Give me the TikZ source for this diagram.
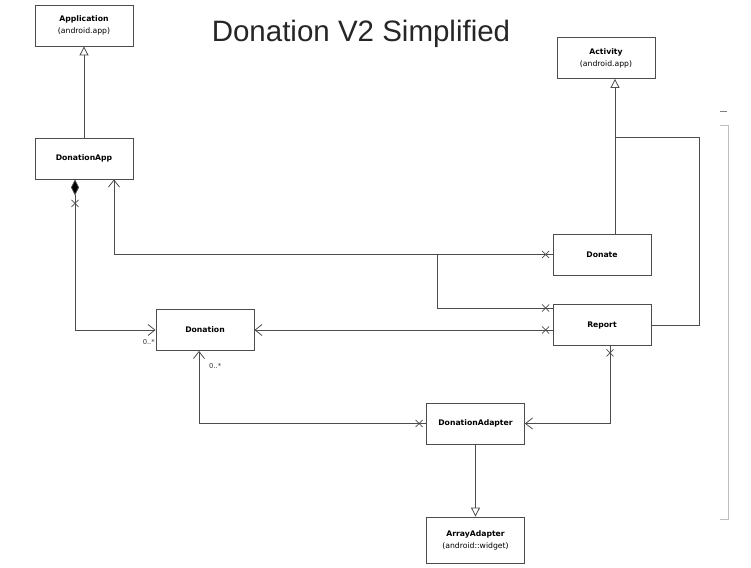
\documentclass[tikz,border=0pt]{standalone}
\usepackage{fontspec}
\setmainfont{DejaVu Sans}
\newfontfamily\titlefont{Liberation Sans}
\usetikzlibrary{arrows.meta,decorations.markings}
\tikzset{
  cls/.style={draw=black!70, line width=0.8pt, fill=white, minimum width=98pt,
    minimum height=41pt, inner sep=0pt, align=center, font=\fontsize{7.7}{12}\selectfont},
  link/.style={draw=black!70, line width=0.8pt},
  gen/.style={link, -{Triangle[open, length=9pt, width=9pt, fill=white]}},
  assoc/.style={link, -{Straight Barb[length=7pt, width=11pt]}},
  xat/.style={postaction={decorate}, decoration={markings, mark=at position #1 with
    {\draw[link,-] (-3.5pt,-3.5pt) -- (3.5pt,3.5pt) (-3.5pt,3.5pt) -- (3.5pt,-3.5pt);}}},
  xat/.default=7pt,
  card/.style={font=\fontsize{6.8}{8}\selectfont, text=black!80, inner sep=0pt}
}

\begin{document}
\begin{tikzpicture}[x=1pt, y=-1pt]
    \useasboundingbox (0,0) rectangle (751,567);

    \node[font=\titlefont\fontsize{29.5}{34}\selectfont, anchor=base, text=black!85] (title) at (361,42) {Donation V2 Simplified};

    \node[cls] (application)  at (84,25.5)    {\textbf{Application}\\(android.app)};
    \node[cls] (donationapp)  at (84,158.5)   {\textbf{DonationApp}};
    \node[cls] (activity)     at (606,58)     {\textbf{Activity}\\(android.app)};
    \node[cls] (donate)       at (602,254.5)  {\textbf{Donate}};
    \node[cls] (report)       at (602,325)    {\textbf{Report}};
    \node[cls] (donation)     at (205,330)    {\textbf{Donation}};
    \node[cls] (adapter)      at (475.5,423.5) {\textbf{DonationAdapter}};
    \node[cls, minimum height=46pt] (arrayadapter) at (475.5,540) {\textbf{ArrayAdapter}\\(android::widget)};

    % inheritance
    \coordinate (actjoin)  at (615,137);
    \coordinate (actright) at (699,137);
    \draw[gen] (donationapp) -- (application);
    \draw[gen] (donate.north -| actjoin) -- (activity.south -| actjoin);
    \draw[link] (actjoin) -- (actright) |- (report.east);
    \draw[gen] (adapter) -- (arrayadapter);

    % associations
    \coordinate (split) at (437,254.5);
    \draw[link, {Diamond[length=16pt, width=8pt, fill=black]}-{Straight Barb[length=7pt, width=11pt]}, xat=24pt]
        ([xshift=-9pt]donationapp.south) |- (donation.west);
    \draw[assoc, xat] (donate.west) -| ([xshift=30pt]donationapp.south);
    \draw[link, xat] ([yshift=17pt]report.west) -| (split);
    \draw[assoc, xat] ([yshift=-5pt]report.west) -- (donation.east);
    \draw[assoc, xat] ([xshift=8pt]report.south) |- (adapter.east);
    \draw[assoc, xat] (adapter.west) -| ([xshift=-6pt]donation.south);

    \node[card, anchor=east] (carda) at (155,342) {0..*};
    \node[card, anchor=west] (cardb) at (209,366) {0..*};

    % side bracket
    \draw[black!50, line width=0.8pt] (720,111) -- (727,111);
    \draw[black!25, line width=0.8pt] (720,125) -- (728,125) -- (728,519) -- (720,519);
\end{tikzpicture}
\end{document}
